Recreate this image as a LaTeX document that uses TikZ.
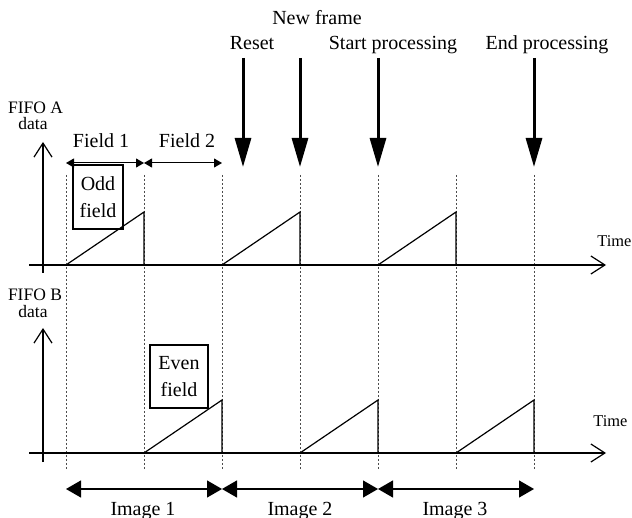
\documentclass[tikz,border=0pt]{standalone}
\usepackage{fontspec}
\setmainfont{Liberation Serif}
\usetikzlibrary{arrows.meta}
\begin{document}
\begin{tikzpicture}[x=0.5pt,y=-0.5pt,
  txt/.style={inner sep=0pt, anchor=base, font=\fontsize{10pt}{12pt}\selectfont},
  smalltxt/.style={inner sep=0pt, anchor=base, font=\fontsize{8.75pt}{10pt}\selectfont},
  timetxt/.style={inner sep=0pt, anchor=base west, font=\fontsize{8.2pt}{10pt}\selectfont},
  guide/.style={draw=black!70, line width=0.45pt, dash pattern=on 1.2pt off 0.8pt},
  axisline/.style={line width=0.8pt, -{Straight Barb[length=7pt,width=9pt,line width=0.6pt]}},
  ramp/.style={line width=0.6pt},
  event/.style={line width=1.5pt, -{Triangle[length=14.5pt,width=8pt]}},
  fspan/.style={line width=0.5pt, {Triangle[length=4pt,width=4.5pt]}-{Triangle[length=4pt,width=4.5pt]}},
  imgspan/.style={line width=0.6pt, {Triangle[length=7.5pt,width=8.5pt]}-{Triangle[length=7.5pt,width=8.5pt]}},
  fieldbox/.style={draw, line width=1.1pt, inner sep=0pt, align=center, font=\fontsize{10pt}{13.5pt}\selectfont},
]
\useasboundingbox (0,0) rectangle (632,518);

% dashed guide lines
\foreach \x in {66,144,...,534} \draw[guide] (\x,175) -- (\x,470);

% FIFO A axes
\coordinate (aV0) at (43,273); \coordinate (aV1) at (43,142);
\coordinate (aH0) at (29,265); \coordinate (aH1) at (606,265);
\draw[axisline] (aV0) -- (aV1);
\draw[axisline] (aH0) -- (aH1);
% FIFO B axes
\coordinate (bV0) at (43,462); \coordinate (bV1) at (43,328);
\coordinate (bH0) at (29,453); \coordinate (bH1) at (606,453);
\draw[axisline] (bV0) -- (bV1);
\draw[axisline] (bH0) -- (bH1);

% ramps FIFO A
\foreach \s in {66,222,378} \draw[ramp] (\s,265) -- (\s+78,212) -- (\s+78,265);
% ramps FIFO B
\foreach \s in {144,300,456} \draw[ramp] (\s,453) -- (\s+78,400) -- (\s+78,453);

% axis labels
\node[smalltxt] (fa1) at (35.5,114) {FIFO A};
\node[smalltxt] (fa2) at (33,130) {data};
\node[smalltxt] (fb1) at (35,300.5) {FIFO B};
\node[smalltxt] (fb2) at (33,318) {data};
\node[timetxt] (ta) at (597,247) {Time};
\node[timetxt] (tb) at (593,426) {Time};

% field boxes
\node[fieldbox, minimum width=25pt, minimum height=32pt] (odd) at (98,197) {Odd\\field};
\node[fieldbox, minimum width=29pt, minimum height=31.5pt] (even) at (179,376.5) {Even\\field};

% field spans
\coordinate (f0) at (66,163); \coordinate (f1) at (144,163); \coordinate (f2) at (222,163);
\draw[fspan] (f0) -- (f1);
\draw[fspan] (f1) -- (f2);
\node[txt] (fl1) at (101,148) {Field 1};
\node[txt] (fl2) at (187,148) {Field 2};

% event labels and arrows
\node[txt] (newframe) at (317,25) {New frame};
\node[txt] (reset) at (252,50) {Reset};
\node[txt] (startp) at (393,50) {Start processing};
\node[txt] (endp) at (547,50) {End processing};
\coordinate (e1a) at (243,58);  \coordinate (e1b) at (243,167);
\coordinate (e2a) at (300,58);  \coordinate (e2b) at (300,167);
\coordinate (e3a) at (378,58);  \coordinate (e3b) at (378,167);
\coordinate (e4a) at (534,58);  \coordinate (e4b) at (534,167);
\draw[event] (e1a) -- (e1b);
\draw[event] (e2a) -- (e2b);
\draw[event] (e3a) -- (e3b);
\draw[event] (e4a) -- (e4b);

% image spans
\coordinate (i0) at (66,489); \coordinate (i1) at (222,489);
\coordinate (i2) at (378,489); \coordinate (i3) at (534,489);
\draw[imgspan] (i0) -- (i1);
\draw[imgspan] (i1) -- (i2);
\draw[imgspan] (i2) -- (i3);
\node[txt] (im1) at (143,515) {Image 1};
\node[txt] (im2) at (300,515) {Image 2};
\node[txt] (im3) at (455,515) {Image 3};
\end{tikzpicture}
\end{document}
